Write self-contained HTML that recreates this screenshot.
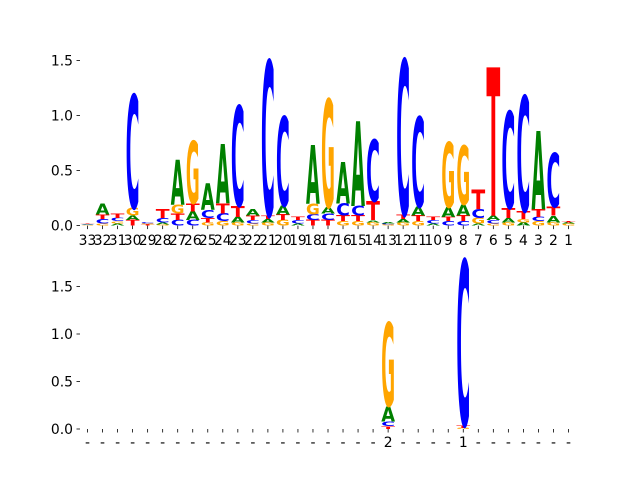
<!DOCTYPE html>
<html><head><meta charset="utf-8"><style>
html,body{margin:0;padding:0;background:#fff;}
svg text{font-family:"DejaVu Sans","Liberation Sans",sans-serif;}
</style></head><body>
<svg id="chart" width="640" height="480" viewBox="0 0 640 480" xmlns="http://www.w3.org/2000/svg">
<g id="top"></g>
<g id="bot"></g>
</svg>
<script>
// Top panel: stacks bottom->top per position, left to right (labels 33..1)
const topLabels = ["33","32","31","30","29","28","27","26","25","24","23","22","21","20","19","18","17","16","15","14","13","12","11","10","9","8","7","6","5","4","3","2","1"];
const topStacks = [
 [["G",.005],["A",.005],["C",.005],["T",.005]],
 [["G",.02],["C",.04],["T",.04],["A",.1]],
 [["A",.02],["G",.02],["C",.03],["T",.04]],
 [["T",.05],["A",.04],["G",.07],["C",1.03]],
 [["T",.01],["G",.01],["C",.01]],
 [["G",.01],["A",.02],["C",.04],["T",.08]],
 [["C",.05],["T",.06],["G",.08],["A",.41]],
 [["C",.05],["A",.08],["T",.07],["G",.57]],
 [["G",.03],["T",.04],["C",.07],["A",.24]],
 [["G",.04],["C",.07],["T",.09],["A",.54]],
 [["G",.03],["A",.05],["T",.1],["C",.91]],
 [["G",.02],["C",.03],["T",.04],["A",.06]],
 [["G",.03],["A",.03],["T",.03],["C",1.41]],
 [["G",.05],["T",.05],["A",.08],["C",.81]],
 [["A",.02],["C",.03],["T",.03]],
 [["T",.05],["C",.05],["G",.1],["A",.53]],
 [["T",.05],["C",.06],["A",.06],["G",.98]],
 [["G",.04],["T",.05],["C",.11],["A",.38]],
 [["G",.04],["T",.05],["C",.09],["A",.77]],
 [["G",.03],["A",.02],["T",.17],["C",.56]],
 [["G",.01],["C",.01],["A",.01]],
 [["G",.03],["A",.03],["T",.04],["C",1.41]],
 [["G",.04],["T",.05],["A",.08],["C",.82]],
 [["A",.02],["C",.03],["T",.03]],
 [["C",.04],["T",.04],["A",.09],["G",.59]],
 [["C",.04],["T",.05],["A",.1],["G",.53]],
 [["A",.02],["G",.05],["C",.08],["T",.18]],
 [["G",.02],["C",.03],["A",.04],["T",1.35]],
 [["G",.03],["A",.04],["T",.09],["C",.88]],
 [["A",.03],["G",.03],["T",.07],["C",1.05]],
 [["G",.04],["C",.04],["T",.07],["A",.71]],
 [["G",.03],["A",.06],["T",.08],["C",.49]],
 [["G",.02],["A",.01],["T",.01]]
];
const topYTicks = [0,0.5,1.0,1.5];
// Bottom panel
const botLabels = ["-","-","-","-","-","-","-","-","-","-","-","-","-","-","-","-","-","-","-","-","2","-","-","-","-","1","-","-","-","-","-","-","-"];
const botStackIndex = [20,25];
const botStacks = [
 [["T",.03],["C",.05],["A",.16],["G",.88]],
 [["G",.01],["T",.03],["C",1.74]]
];
const botYTicks = [0,0.5,1.0,1.5];

const colors = {A:"#008000",C:"#0000ff",G:"#ffa500",T:"#ff0000"};
const NS = "http://www.w3.org/2000/svg";
const x0 = 80, x1 = 576, N = 33, step = (x1-x0)/N;
const xc = i => x0 + (i+0.5)*step;

function mk(tag, attrs, parent){
  const e = document.createElementNS(NS, tag);
  for (const k in attrs) e.setAttribute(k, attrs[k]);
  parent.appendChild(e); return e;
}
function drawLetter(g, ch, i, base, h, scale){
  if (h <= 0) return;
  const hp = h*scale, w = step*0.92;
  const t = mk("text", {x:0, y:0, "font-size":100, "font-weight":"bold",
    fill:colors[ch], textLength:w, lengthAdjust:"spacingAndGlyphs",
    transform:`translate(${xc(i)-w/2},${base}) scale(1,${hp/73})`}, g);
  
  
  t.textContent = ch;
}
function drawStack(g, stack, i, zero, scale){
  let cum = 0;
  stack.forEach(([ch,v]) => { drawLetter(g, ch, i, zero - cum*scale, v, scale); cum += v; });
}
function axes(g, zero, scale, yticks, labels, labelY){
  yticks.forEach(v => {
    const y = zero - v*scale;
    const l = mk("line", {x1:76.5, x2:80, y1:y, y2:y, stroke:"#000", "stroke-width":0.8}, g);
    
    
    const t = mk("text", {x:73, y:y+5, "font-size":13.9, "text-anchor":"end", fill:"#000"}, g);
    
    
    t.textContent = v.toFixed(1);
  });
  labels.forEach((lab, i) => {
    const l = mk("line", {x1:xc(i), x2:xc(i), y1:zero, y2:zero+3.5, stroke:"#000", "stroke-width":0.8}, g);
    
    
    const t = mk("text", {x:xc(i), y:labelY, "font-size":13.9, "text-anchor":"middle", fill:"#000"}, g);
    
    
    t.textContent = lab;
  });
}
const gt = document.getElementById("top"), gb = document.getElementById("bot");
const topZero = 225.6, topScale = 110;
const botZero = 429, botScale = 95;
axes(gt, topZero, topScale, topYTicks, topLabels, 245);
axes(gb, botZero, botScale, botYTicks, botLabels, 447);
topStacks.forEach((s,i) => drawStack(gt, s, i, topZero, topScale));
botStacks.forEach((s,k) => drawStack(gb, s, botStackIndex[k], botZero, botScale));
</script>
</body></html>
